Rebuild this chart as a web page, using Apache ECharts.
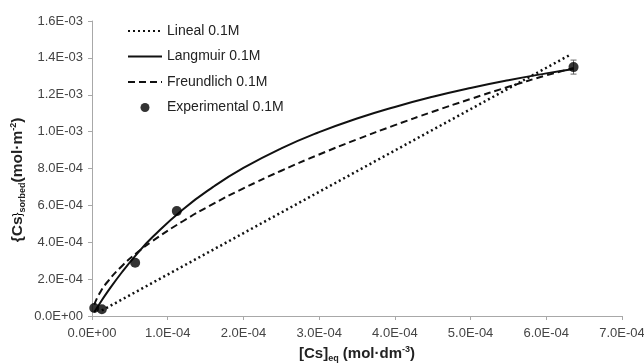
<!DOCTYPE html>
<html>
<head>
<meta charset="utf-8">
<script src="https://cdn.jsdelivr.net/npm/echarts@6/dist/echarts.min.js"></script>
<style>
  html, body { margin: 0; padding: 0; background: #fff; }
  #chart { width: 644px; height: 363px; }
</style>
</head>
<body>
<div id="chart"></div>
<script>
// datos
var xTicks = ['0.0E+00', '1.0E-04', '2.0E-04', '3.0E-04', '4.0E-04', '5.0E-04', '6.0E-04', '7.0E-04'];
var yTicks = ['0.0E+00', '2.0E-04', '4.0E-04', '6.0E-04', '8.0E-04', '1.0E-03', '1.2E-03', '1.4E-03', '1.6E-03'];

// puntos experimentales [Cs]eq, {Cs}sorbed
var expX = [3e-6, 1.3e-5, 5.7e-5, 1.12e-4, 6.36e-4];
var expY = [4.3e-5, 3.7e-5, 2.89e-4, 5.69e-4, 1.35e-3];
var expErr = [0, 0, 0, 0, 3.8e-5];

// curvas de ajuste (muestreadas del gráfico)
var curveX = [3e-6, 1e-5, 2e-5, 4e-5, 6e-5, 8e-5, 1.2e-4, 1.6e-4, 2e-4, 2.5e-4, 3e-4, 3.5e-4, 4e-4, 4.5e-4, 5e-4, 5.5e-4, 6e-4, 6.36e-4];
var langmuirY = [2.0e-5, 6.6e-5, 1.28e-4, 2.40e-4, 3.40e-4, 4.28e-4, 5.78e-4, 7.00e-4, 8.03e-4, 9.09e-4, 9.97e-4, 1.071e-3, 1.134e-3, 1.189e-3, 1.237e-3, 1.279e-3, 1.316e-3, 1.340e-3];
var freundlichY = [6.2e-5, 1.23e-4, 1.83e-4, 2.73e-4, 3.45e-4, 4.07e-4, 5.14e-4, 6.08e-4, 6.92e-4, 7.88e-4, 8.76e-4, 9.58e-4, 1.035e-3, 1.108e-3, 1.177e-3, 1.243e-3, 1.305e-3, 1.345e-3];
var linealX = [1.3e-5, 6.33e-4];
var linealY = [3.0e-5, 1.42e-3];

function pairs(xs, ys) {
    var out = [];
    for (var i = 0; i < xs.length; i++) out.push([xs[i], ys[i]]);
    return out;
}

var chart = echarts.init(document.getElementById('chart'));
var font = 'Liberation Sans, Arial, sans-serif';
var hideSym = { opacity: 0 };

var option = {
    animation: false,
    backgroundColor: '#fff',
    textStyle: { fontFamily: font },
    grid: { left: 92, right: 22, top: 21, bottom: 47, containLabel: false, outerBoundsMode: 'none' },
    legend: {
        orient: 'vertical',
        left: 122,
        top: 19,
        itemWidth: 34,
        itemHeight: 9,
        itemGap: 11.5,
        textStyle: { fontSize: 14, color: '#222', fontFamily: font },
        data: [
            { name: 'Lineal 0.1M', itemStyle: hideSym },
            { name: 'Langmuir 0.1M', itemStyle: hideSym },
            { name: 'Freundlich 0.1M', itemStyle: hideSym },
            { name: 'Experimental 0.1M' }
        ]
    },
    xAxis: {
        type: 'value',
        min: 0, max: 7e-4, interval: 1e-4,
        name: '{b|[Cs]}{s|eq}{b| (mol·dm}{p|-3}{b|)}',
        nameLocation: 'middle',
        nameGap: 27,
        nameTextStyle: {
            rich: {
                b: { fontSize: 15, fontWeight: 'bold', color: '#222', fontFamily: font, height: 18 },
                s: { fontSize: 9, fontWeight: 'bold', color: '#222', fontFamily: font, verticalAlign: 'bottom', padding: [7, 0, 0, 0] },
                p: { fontSize: 9, fontWeight: 'bold', color: '#222', fontFamily: font, verticalAlign: 'top', padding: [0, 0, 7, 0] }
            }
        },
        axisLine: { lineStyle: { color: '#a8a8a8' } },
        axisTick: { length: 4, lineStyle: { color: '#a8a8a8' } },
        splitLine: { show: false },
        axisLabel: {
            fontSize: 13, color: '#444', margin: 11, fontFamily: font,
            formatter: function(v) { return xTicks[Math.round(v / 1e-4)]; }
        }
    },
    yAxis: {
        type: 'value',
        min: 0, max: 1.6e-3, interval: 2e-4,
        axisLine: { show: true, lineStyle: { color: '#a8a8a8' } },
        axisTick: { show: true, length: 4, lineStyle: { color: '#a8a8a8' } },
        splitLine: { show: false },
        axisLabel: {
            fontSize: 13, color: '#444', margin: 9, fontFamily: font,
            formatter: function(v) { return yTicks[Math.round(v / 2e-4)]; }
        }
    },
    graphic: [{
        type: 'text',
        x: 18, y: 180,
        rotation: Math.PI / 2,
        style: {
            text: '{b|{Cs}}{s|sorbed}{b|(mol·m}{p|-2}{b|)}',
            align: 'center',
            verticalAlign: 'middle',
            rich: {
                b: { fontSize: 15.5, fontWeight: 'bold', fill: '#222', fontFamily: font, height: 18 },
                s: { fontSize: 9, fontWeight: 'bold', fill: '#222', fontFamily: font, verticalAlign: 'bottom', padding: [7, 0, 0, 0] },
                p: { fontSize: 9, fontWeight: 'bold', fill: '#222', fontFamily: font, verticalAlign: 'top', padding: [0, 0, 7, 0] }
            }
        }
    }],
    series: [
        {
            name: 'Lineal 0.1M', type: 'line', symbol: 'none',
            data: pairs(linealX, linealY),
            lineStyle: { color: '#111', width: 2.5, type: [2, 3] },
            itemStyle: { color: '#111' }
        },
        {
            name: 'Langmuir 0.1M', type: 'line', symbol: 'none', smooth: true,
            data: pairs(curveX, langmuirY),
            lineStyle: { color: '#111', width: 2 },
            itemStyle: { color: '#111' }
        },
        {
            name: 'Freundlich 0.1M', type: 'line', symbol: 'none', smooth: true,
            data: pairs(curveX, freundlichY),
            lineStyle: { color: '#111', width: 2, type: [7, 4] },
            itemStyle: { color: '#111' }
        },
        {
            name: 'errbar', type: 'custom',
            data: expX.map(function(x, i) { return [x, expY[i] - expErr[i], expY[i] + expErr[i]]; }),
            renderItem: function(params, api) {
                if (api.value(2) - api.value(1) <= 0) return;
                var lo = api.coord([api.value(0), api.value(1)]);
                var hi = api.coord([api.value(0), api.value(2)]);
                var st = { stroke: '#666', lineWidth: 1 };
                return {
                    type: 'group',
                    children: [
                        { type: 'line', shape: { x1: lo[0], y1: lo[1], x2: hi[0], y2: hi[1] }, style: st },
                        { type: 'line', shape: { x1: lo[0] - 3, y1: lo[1], x2: lo[0] + 3, y2: lo[1] }, style: st },
                        { type: 'line', shape: { x1: hi[0] - 3, y1: hi[1], x2: hi[0] + 3, y2: hi[1] }, style: st }
                    ]
                };
            },
            z: 3
        },
        {
            name: 'Experimental 0.1M', type: 'scatter', symbol: 'circle', symbolSize: 10,
            data: pairs(expX, expY),
            itemStyle: { color: '#000' },
            z: 4
        }
    ]
};

chart.setOption(option);
</script>
</body>
</html>
